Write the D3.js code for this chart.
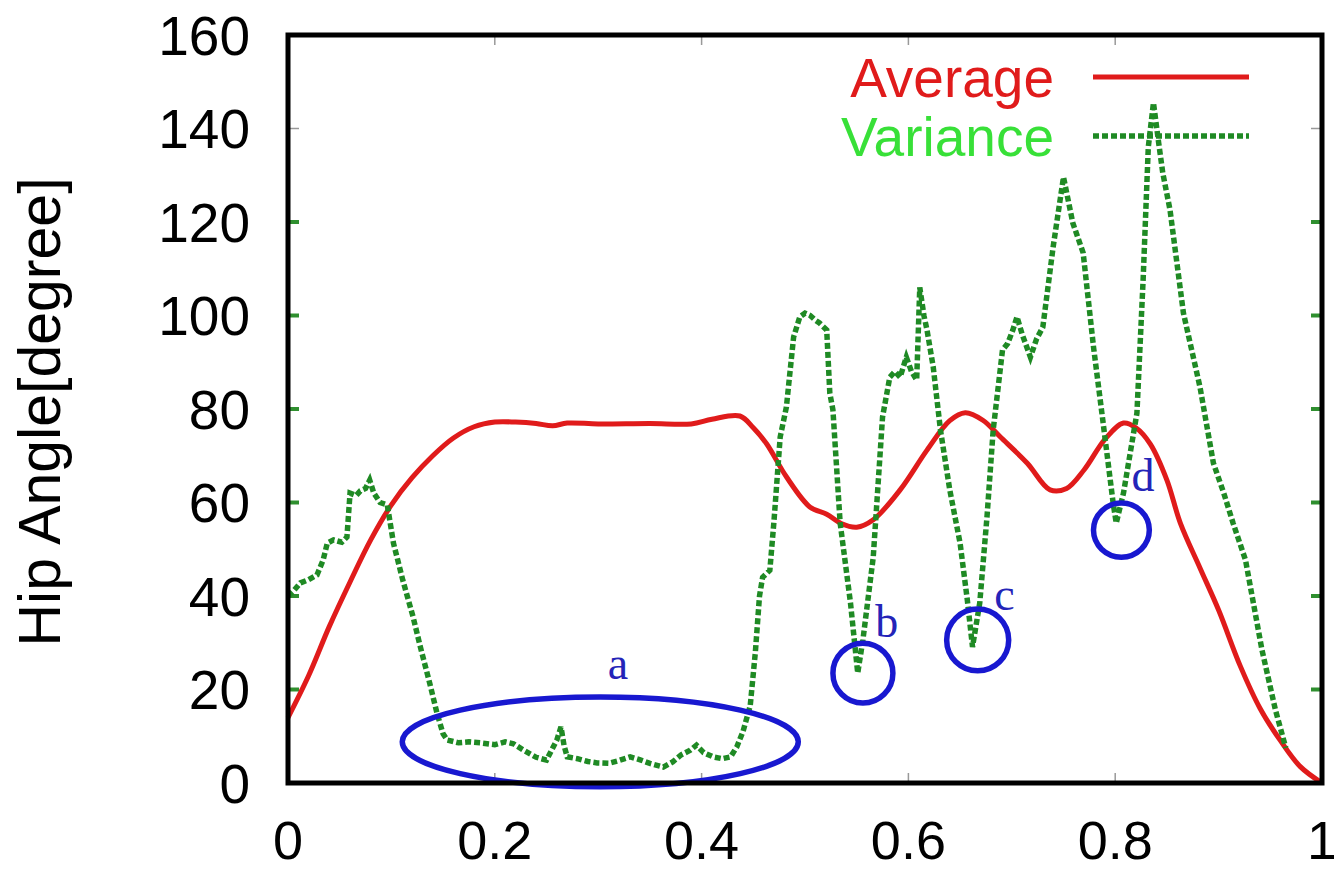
<!DOCTYPE html>
<html>
<head>
<meta charset="utf-8">
<script src="https://cdn.jsdelivr.net/npm/d3@7"></script>
<style>
  body { margin: 0; background: #fff; }
  svg { display: block; }
</style>
</head>
<body>
<script>
var width = 1334;
var height = 871;
var margin = { top: 35, right: 12, bottom: 88, left: 288 };

// values
var xTicks = [0, 0.2, 0.4, 0.6, 0.8, 1];
var xTickLabels = ["0", "0.2", "0.4", "0.6", "0.8", "1"];
var yTicks = [0, 20, 40, 60, 80, 100, 120, 140, 160];

var avgX = [0, 0.02, 0.04, 0.06, 0.08, 0.1, 0.12, 0.14, 0.16, 0.18, 0.2, 0.22, 0.24, 0.256, 0.27, 0.3, 0.35, 0.39, 0.41, 0.437,
  0.45, 0.463, 0.482, 0.505, 0.521, 0.535, 0.55, 0.566, 0.592, 0.618, 0.64, 0.655, 0.672, 0.689, 0.715, 0.737, 0.753, 0.77,
  0.79, 0.808, 0.82, 0.834, 0.85, 0.863, 0.882, 0.9, 0.921, 0.94, 0.96, 0.979, 1.0];
var avgY = [14, 23, 33.5, 43, 52, 59.5, 65.3, 70, 73.8, 76.2, 77.2, 77.2, 76.9, 76.4, 77, 76.8, 76.9, 76.8, 77.8, 78.5,
  76, 72.5, 65.5, 59, 57.5, 55.5, 54.7, 56.3, 62.7, 71.2, 77.5, 79.2, 77.6, 74, 68.4, 62.7, 63, 67,
  73.5, 77, 76, 72.5, 64.8, 55.6, 46, 37, 25, 16, 9, 3.5, 0];

var varX = [0, 0.005, 0.012, 0.02, 0.028, 0.034, 0.038, 0.044, 0.052, 0.057, 0.06, 0.066, 0.07, 0.075, 0.079, 0.083, 0.089, 0.096,
  0.102, 0.111, 0.121, 0.128, 0.137, 0.144, 0.15, 0.154, 0.165, 0.175, 0.186, 0.2, 0.21, 0.218, 0.228, 0.24, 0.25, 0.256, 0.26,
  0.264, 0.267, 0.27, 0.28, 0.29, 0.299, 0.31, 0.32, 0.331, 0.34, 0.35, 0.363, 0.372, 0.38, 0.389, 0.395, 0.402, 0.411, 0.42,
  0.428, 0.434, 0.44, 0.447, 0.452, 0.456, 0.459, 0.466, 0.47, 0.476, 0.482, 0.486, 0.489, 0.495, 0.5, 0.505, 0.51, 0.514,
  0.521, 0.524, 0.527, 0.534, 0.544, 0.551, 0.556, 0.566, 0.575, 0.582, 0.587, 0.592, 0.598, 0.603, 0.608, 0.611, 0.615,
  0.618, 0.624, 0.631, 0.64, 0.65, 0.657, 0.662, 0.669, 0.676, 0.682, 0.691, 0.696, 0.701, 0.705, 0.71, 0.718, 0.724, 0.73,
  0.74, 0.75, 0.759, 0.769, 0.779, 0.788, 0.798, 0.801, 0.808, 0.821, 0.827, 0.832, 0.837, 0.842, 0.846, 0.853, 0.866,
  0.882, 0.895, 0.905, 0.914, 0.926, 0.942, 0.955, 0.965];
var varY = [40, 41, 42.8, 43.5, 44.5, 47.7, 51.3, 52, 51.5, 52.6, 62, 61.5, 62.5, 63, 64.8, 62, 60, 59.5,
  51.3, 43.4, 35.5, 29.1, 21.4, 15, 10.5, 9.2, 8.6, 8.8, 8.6, 8.2, 8.8, 8.4, 7, 5.5, 4.9, 7.5, 9.2,
  12, 8, 5.6, 5.2, 4.6, 4.3, 4.2, 4.8, 5.6, 5, 4.2, 3.4, 4.5, 6, 7, 8.1, 6.5, 5.6, 5.2,
  5.6, 7.7, 11, 16.5, 28, 40, 44, 45.5, 56, 74, 80.4, 89, 95.4, 99.7, 100.5, 100, 99, 98.4,
  96.9, 83.4, 79.8, 55.6, 38.5, 23.5, 30.6, 48.3, 78.3, 86.8, 88, 86.8, 91.1, 88, 86.2, 106, 100,
  96.9, 89, 75.5, 62.7, 51.3, 39.1, 29.1, 38.5, 56.9, 75.5, 92.6, 94, 96.9, 99.7, 96, 91.1, 95, 97.5,
  114.7, 129.6, 119.8, 113.4, 93.3, 77.6, 59.9, 55.6, 62, 79.1, 107.6, 136, 145.5, 137, 130.5, 122.6, 100.5,
  84.7, 68.4, 62, 55.6, 47.7, 28.4, 15.6, 7.5];

// annotation marks: label, centre x, centre y (data units), radius in x (data), radius in y (data)
var markLabels = ["a", "b", "c", "d"];
var markX = [0.302, 0.556, 0.667, 0.806];
var markY = [8.8, 23.5, 30.6, 54.1];
var markRx = [0.1915, 0.029, 0.03, 0.027];
var markRy = [9.6, 6.4, 6.6, 5.8];
var labelX = [0.319, 0.579, 0.693, 0.827];
var labelY = [22.2, 31.2, 37.0, 62.4];

var seriesNames = ["Average", "Variance"];

var x = d3.scaleLinear().domain([0, 1]).range([margin.left, width - margin.right]);
var y = d3.scaleLinear().domain([0, 160]).range([height - margin.bottom, margin.top]);

var svg = d3.select("body").append("svg")
  .attr("width", width).attr("height", height)
  .style("font-family", "'Liberation Sans', Arial, sans-serif");

// ticks (inside, mirrored)
var tickG = svg.append("g");
xTicks.slice(1, -1).forEach(function (t) {
  tickG.append("line").attr("x1", x(t)).attr("x2", x(t))
    .attr("y1", y(0)).attr("y2", y(0) - 10).attr("stroke", "#999").attr("stroke-width", 1.5);
  tickG.append("line").attr("x1", x(t)).attr("x2", x(t))
    .attr("y1", y(160)).attr("y2", y(160) + 10).attr("stroke", "#999").attr("stroke-width", 1.5);
});
yTicks.slice(1, -1).forEach(function (t) {
  var green = t <= 120;
  var col = green ? "#2f8f2f" : "#999";
  var sw = green ? 4 : 1.5;
  tickG.append("line").attr("x1", x(0)).attr("x2", x(0) + 11)
    .attr("y1", y(t)).attr("y2", y(t)).attr("stroke", col).attr("stroke-width", sw);
  tickG.append("line").attr("x1", x(1)).attr("x2", x(1) - 11)
    .attr("y1", y(t)).attr("y2", y(t)).attr("stroke", col).attr("stroke-width", sw);
});

// tick labels
svg.append("g").selectAll("text").data(yTicks).enter().append("text")
  .attr("x", margin.left - 38)
  .attr("y", function (d) { return y(d); })
  .attr("dy", "0.36em")
  .attr("text-anchor", "end")
  .style("font-size", "55px")
  .text(function (d) { return d; });

svg.append("g").selectAll("text").data(xTicks).enter().append("text")
  .attr("x", function (d) { return x(d); })
  .attr("y", y(0) + 76)
  .attr("text-anchor", "middle")
  .style("font-size", "54px")
  .text(function (d, i) { return xTickLabels[i]; });

svg.append("text")
  .attr("transform", "translate(60," + 412 + ") rotate(-90)")
  .attr("text-anchor", "middle")
  .style("font-size", "59px")
  .text("Hip Angle[degree]");

// lines
var avgData = avgX.map(function (d, i) { return [d, avgY[i]]; });
var varData = varX.map(function (d, i) { return [d, varY[i]]; });

var lineAvg = d3.line()
  .x(function (d) { return x(d[0]); })
  .y(function (d) { return y(d[1]); })
  .curve(d3.curveCatmullRom);
var lineVar = d3.line()
  .x(function (d) { return x(d[0]); })
  .y(function (d) { return y(d[1]); });

svg.append("path").datum(avgData)
  .attr("d", lineAvg)
  .style("fill", "none").style("stroke", "#e01b1b").style("stroke-width", 5);

svg.append("path").datum(varData)
  .attr("d", lineVar)
  .style("fill", "none").style("stroke", "#1f8a24").style("stroke-width", 5.5)
  .style("stroke-dasharray", "6,3");

// legend
var legY = [77, 136];
var legCol = ["#e01b1b", "#38e038"];
seriesNames.forEach(function (name, i) {
  svg.append("text")
    .attr("x", 1054).attr("y", legY[i]).attr("dy", "0.36em")
    .attr("text-anchor", "end")
    .style("font-size", "55px")
    .style("fill", legCol[i])
    .text(name);
  var ln = svg.append("line")
    .attr("x1", 1093).attr("x2", 1249).attr("y1", legY[i]).attr("y2", legY[i])
    .style("stroke-width", i === 0 ? 5 : 5.5);
  if (i === 0) ln.style("stroke", "#e01b1b");
  else ln.style("stroke", "#1f8a24").style("stroke-dasharray", "6,3");
});

// annotations
var ann = svg.append("g");
markLabels.forEach(function (lab, i) {
  ann.append("ellipse")
    .attr("cx", x(markX[i])).attr("cy", y(markY[i]))
    .attr("rx", x(markRx[i]) - x(0)).attr("ry", y(0) - y(markRy[i]))
    .style("fill", "none").style("stroke", "#1818d0").style("stroke-width", 5.5);
  ann.append("text")
    .attr("x", x(labelX[i])).attr("y", y(labelY[i]))
    .attr("text-anchor", "middle")
    .style("font-family", "'Liberation Serif', 'Times New Roman', serif")
    .style("font-size", "46px")
    .style("fill", "#2424b8")
    .text(lab);
});

// frame
svg.append("rect")
  .attr("x", x(0)).attr("y", y(160))
  .attr("width", x(1) - x(0)).attr("height", y(0) - y(160))
  .style("fill", "none").style("stroke", "#000").style("stroke-width", 5);
</script>
</body>
</html>
